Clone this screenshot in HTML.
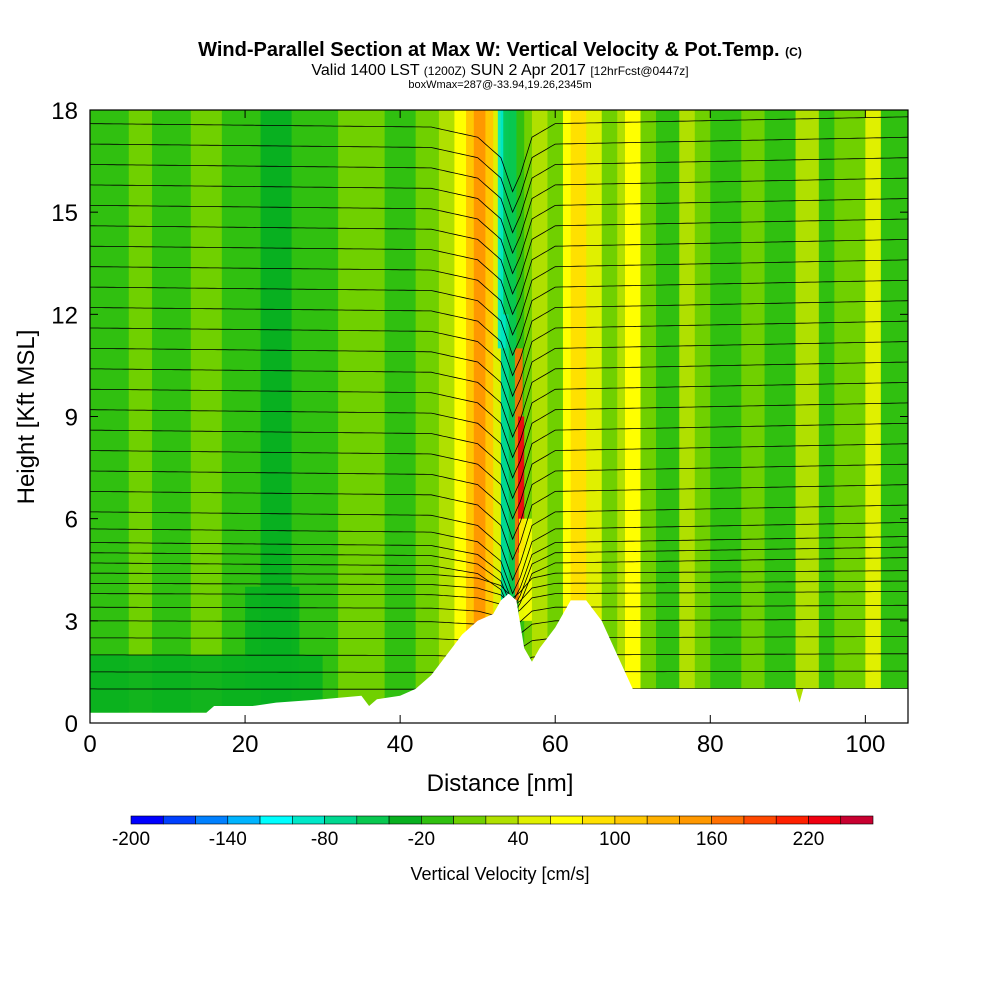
<!DOCTYPE html>
<html><head><meta charset="utf-8"><style>
body{margin:0;background:#fff;font-family:"Liberation Sans",sans-serif}
svg{display:block}
</style></head><body>
<svg id="c" width="1000" height="1000" xmlns="http://www.w3.org/2000/svg">
<text x="500" y="56" text-anchor="middle" font-size="20" font-weight="bold">Wind-Parallel Section at Max W: Vertical Velocity &amp; Pot.Temp. <tspan font-size="12">(C)</tspan></text>
<text x="500" y="75" text-anchor="middle" font-size="16">Valid 1400 LST <tspan font-size="12">(1200Z)</tspan> SUN 2 Apr 2017 <tspan font-size="12">[12hrFcst@0447z]</tspan></text>
<text x="500" y="88" text-anchor="middle" font-size="11">boxWmax=287@-33.94,19.26,2345m</text>
<g id="plot"></g>
<text x="500" y="791" text-anchor="middle" font-size="24">Distance [nm]</text>
<text transform="translate(34,417) rotate(-90)" text-anchor="middle" font-size="24">Height [Kft MSL]</text>
<g id="cbar"></g>
<text x="500" y="880" text-anchor="middle" font-size="18">Vertical Velocity [cm/s]</text>
</svg>
<script>
const levels=[-200,-180,-160,-140,-120,-100,-80,-60,-40,-20,0,20,40,60,80,100,120,140,160,180,200,220,240];
const levelColors=["#0000ff","#0040ff","#0080ff","#00b4ff","#00ffff","#00e8c8","#00d890","#08c850","#08b020","#30c010","#70d000","#b0e000","#e0f000","#ffff00","#ffe000","#ffc800","#ffb000","#ff9800","#ff7000","#ff4800","#ff2000","#f00010","#c80030"];
const cbarLabels=[-200,-140,-80,-20,40,100,160,220];
const xTicks=[0,20,40,60,80,100];
const yTicks=[0,3,6,9,12,15,18];
const stripeStart=[0,5,8,13,17,22,26,32,38,42,45,47,48.5,49.5,51,52,53,54,55,56,57,59,61,62,64,66,68,69,71,73,76,78,80,84,87,91,94,96,100,102];
const stripeEnd=[5,8,13,17,22,26,32,38,42,45,47,48.5,49.5,51,52,53,54,55,56,57,59,61,62,64,66,68,69,71,73,76,78,80,84,87,91,94,96,100,102,105.5];
const stripeW=[-10,10,-10,10,-10,-30,-10,10,-10,10,30,60,110,150,110,40,-80,-50,-20,10,30,10,70,90,50,10,30,70,10,-10,30,10,-10,10,-10,30,-10,10,50,-10];
// overlay patches: x0,x1 (nm), z0,z1 (kft), w
const patchX0=[54.8,55.2,52.6,53.3,0,20,55.3];
const patchX1=[55.8,56.0,53.6,54.3,30,27,57];
const patchZ0=[3.6,5,11,12,0.3,1,3];
const patchZ1=[11,9,18,18,2,4,6];
const patchW=[160,220,-100,-60,-30,-30,60];
const terrX=[0,15,16,21,24,30,35,36,37,40,42,44,46,48,50,52,53,54,55,56,57,58,60,62,64,66,68,70,91,91.5,92,105.5];
const terrZ=[0.3,0.3,0.5,0.5,0.6,0.7,0.8,0.5,0.7,0.8,1.0,1.4,2.0,2.6,3.0,3.2,3.6,3.8,3.6,2.2,1.8,2.2,2.8,3.6,3.6,3.0,2.0,1.0,1.0,0.6,1.0,1.0];
const thetaZ=[1.0,1.5,2.0,2.5,3.0,3.4,3.8,4.1,4.4,4.7,5.0,5.3,5.7,6.2,6.8,7.4,8.0,8.6,9.2,9.8,10.4,11.0,11.6,12.2,12.8,13.4,14.0,14.6,15.2,15.8,16.4,17.0,17.6];
const dipX=[0,44,50,53,54.5,55.5,57,60,105.5];
const dipZ=[0,-0.1,-0.4,-1.0,-2.0,-1.5,-0.4,0,0.2];

const X0=90,X1=908,Y0=723,Y1=110,XMAX=105.5,ZMAX=18;
const sx=v=>X0+v/XMAX*(X1-X0), sy=v=>Y0-v/ZMAX*(Y0-Y1);
const col=w=>{let i=Math.floor((w+200)/20);i=Math.max(0,Math.min(levelColors.length-1,i));return levelColors[i];};
const NS="http://www.w3.org/2000/svg";
const mk=(p,t,a)=>{const e=document.createElementNS(NS,t);for(const k in a)e.setAttribute(k,a[k]);p.appendChild(e);return e;};
const plot=document.getElementById('plot');
stripeW.forEach((w,i)=>{
 const r=mk(plot,'rect',{x:sx(stripeStart[i]),y:Y1,width:sx(stripeEnd[i])-sx(stripeStart[i])+0.5,height:Y0-Y1,fill:col(w)});
 
 
});
patchW.forEach((w,i)=>{
 const r=mk(plot,'rect',{x:sx(patchX0[i]),y:sy(patchZ1[i]),width:sx(patchX1[i])-sx(patchX0[i]),height:sy(patchZ0[i])-sy(patchZ1[i]),fill:col(w),opacity:0.9});
 
 
});
function interp(xs,ys,x){for(let i=0;i<xs.length-1;i++){if(x>=xs[i]&&x<=xs[i+1]){const t=(x-xs[i])/(xs[i+1]-xs[i]);return ys[i]+t*(ys[i+1]-ys[i]);}}return ys[ys.length-1];}
thetaZ.forEach((h,k)=>{
 let d='';const amp=Math.min(1,h/6);
 for(let x=0;x<=XMAX;x+=0.5){const z=h+interp(dipX,dipZ,x)*amp*(h<4.5?0.5:1);d+=(x?'L':'M')+sx(x).toFixed(1)+','+sy(z).toFixed(1);}
 const p=mk(plot,'path',{d:d,fill:'none',stroke:'#000','stroke-width':0.8});
 
 
});
let td='M'+sx(0)+','+Y0;
terrX.forEach((x,i)=>{td+='L'+sx(x).toFixed(1)+','+sy(terrZ[i]).toFixed(1);});
td+='L'+X1+','+Y0+'Z';
const terr=mk(plot,'path',{d:td,fill:'#fff'});


const frame=mk(plot,'rect',{x:X0,y:Y1,width:X1-X0,height:Y0-Y1,fill:'none',stroke:'#000','stroke-width':1.2});


xTicks.forEach(v=>{
 mk(plot,'line',{x1:sx(v),x2:sx(v),y1:Y0,y2:Y0-8,stroke:'#000'});
 mk(plot,'line',{x1:sx(v),x2:sx(v),y1:Y1,y2:Y1+8,stroke:'#000'});
 const t=mk(plot,'text',{x:sx(v),y:Y0+29,'text-anchor':'middle','font-size':24});t.textContent=v;
 
 
});
yTicks.forEach(v=>{
 mk(plot,'line',{x1:X0,x2:X0+8,y1:sy(v),y2:sy(v),stroke:'#000'});
 mk(plot,'line',{x1:X1,x2:X1-8,y1:sy(v),y2:sy(v),stroke:'#000'});
 const t=mk(plot,'text',{x:X0-12,y:sy(v)+9,'text-anchor':'end','font-size':24});t.textContent=v;
 
 
});
const cb=document.getElementById('cbar');const CB0=131,CB1=873,bw=(CB1-CB0)/levelColors.length;
levelColors.forEach((c,i)=>{
 const r=mk(cb,'rect',{x:CB0+i*bw,y:816,width:bw,height:8,fill:c,stroke:'#000','stroke-width':0.6});
 
 
});
cbarLabels.forEach(v=>{
 const t=mk(cb,'text',{x:CB0+(v-levels[0])/20*bw,y:845,'text-anchor':'middle','font-size':19});t.textContent=v;
 
 
});
</script>
</body></html>
